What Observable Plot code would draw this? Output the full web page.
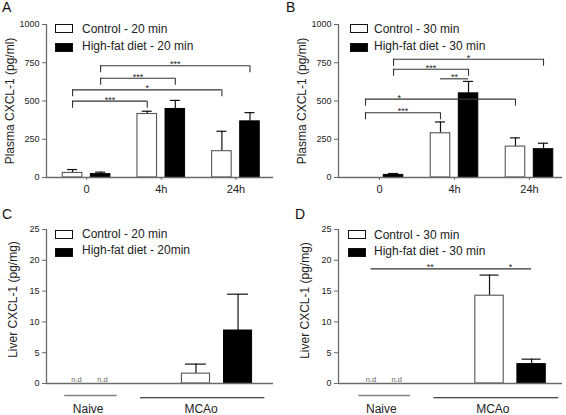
<!DOCTYPE html>
<html><head><meta charset="utf-8">
<script src="https://cdn.jsdelivr.net/npm/d3@7"></script>
<script src="https://cdn.jsdelivr.net/npm/@observablehq/plot@0.6"></script>
<style>
body{margin:0;background:#fff;font-family:"Liberation Sans",Arial,sans-serif;}
#fig{position:relative;width:566px;height:415px;overflow:hidden;background:#fff}
.panel{position:absolute;width:283px}
.panel svg{display:block}
.letter{position:absolute;top:0;font-size:14px;line-height:14px;color:#111}
.sw{position:absolute;width:16px;height:7px;border:1px solid #111}
.lt{position:absolute;font-size:12px;line-height:12px;color:#222;white-space:nowrap}
</style>
</head><body><div id="fig"></div>
<script>
// ---------------- data ----------------
const timesAB = ["0", "4h", "24h"];
const groupsCD = ["Naive", "MCAo"];
const diets = ["Control", "High-fat diet"];

const legendA = ["Control - 20 min", "High-fat diet - 20 min"];
const legendB = ["Control - 30 min", "High-fat diet - 30 min"];
const legendC = ["Control - 20 min", "High-fat diet - 20min"];
const legendD = ["Control - 30 min", "High-fat diet - 30 min"];

const yLabelAB = "Plasma CXCL-1 (pg/ml)";
const yLabelCD = "Liver CXCL-1 (pg/mg)";
const ticksPlasma = [0, 250, 500, 750, 1000];
const ticksLiver = [0, 5, 10, 15, 20, 25];

// Panel A (plasma, 20 min)
const plasmaA_control = [30, 415, 172];
const plasmaA_controlSem = [22, 18, 130];
const plasmaA_hfd = [22, 448, 367];
const plasmaA_hfdSem = [13, 56, 57];

// Panel B (plasma, 30 min)
const plasmaB_control = [0, 289, 202];
const plasmaB_controlSem = [0, 74, 57];
const plasmaB_hfd = [17, 550, 185];
const plasmaB_hfdSem = [9, 78, 39];

// Panel C (liver, 20 min) — null = not detected
const liverC_control = [null, 1.6];
const liverC_controlSem = [null, 1.55];
const liverC_hfd = [null, 8.6];
const liverC_hfdSem = [null, 5.9];

// Panel D (liver, 30 min)
const liverD_control = [null, 14.25];
const liverD_controlSem = [null, 3.35];
const liverD_hfd = [null, 3.15];
const liverD_hfdSem = [null, 0.8];

// significance annotations
const sigA_label = ["***", "*", "***", "***"];
const sigA_fromGroup = ["0", "0", "0", "0"];
const sigA_fromDiet = ["Control", "Control", "High-fat diet", "High-fat diet"];
const sigA_toGroup = ["4h", "24h", "4h", "24h"];
const sigA_toDiet = ["Control", "Control", "High-fat diet", "High-fat diet"];
const sigA_y = [499, 573, 649, 730];
const sigA_legs = [true, true, true, true];

const sigB_label = ["***", "*", "**", "***", "*"];
const sigB_fromGroup = ["0", "0", "4h", "0", "0"];
const sigB_fromDiet = ["Control", "Control", "Control", "High-fat diet", "High-fat diet"];
const sigB_toGroup = ["4h", "24h", "4h", "4h", "24h"];
const sigB_toDiet = ["Control", "Control", "High-fat diet", "High-fat diet", "High-fat diet"];
const sigB_y = [423, 512, 645, 708, 773];
const sigB_legs = [true, true, false, true, true];

const sigD_label = ["**", "*"];
const sigD_fromGroup = ["Naive", "MCAo"];
const sigD_fromDiet = ["Control", "Control"];
const sigD_toGroup = ["MCAo", "MCAo"];
const sigD_toDiet = ["Control", "High-fat diet"];
const sigD_y = [18.6, 18.6];
const sigD_legs = [false, false];

// ---------------- layout (styles / positions) ----------------
const AXIS = "#6a6a6a";
const layouts = {
  A: {left: 0, top: 0, height: 207, mL: 46, mR: 10, mT: 24, mB: 30, xDom: [-0.537, 2.503], yDom: [0, 1000],
      spread: 0.188, barHalf: 0.131, capHalf: 0.067, leg: 46, yLabDx: -36.5, yLabDy: 0,
      sw: [55, 24, 43], tx: 82, letterX: 2, sigShift: []},
  B: {left: 283, top: 0, height: 207, mL: 55, mR: 4, mT: 24, mB: 30, xDom: [-0.547, 2.44], yDom: [0, 1000],
      spread: 0.187, barHalf: 0.13, capHalf: 0.067, leg: 46, yLabDx: -36, yLabDy: 0,
      sw: [67, 24, 43], tx: 91, letterX: 3, sigShift: [0, -0.55, 0, 0, 0]},
  C: {left: 0, top: 207, height: 208, mL: 46, mR: 10, mT: 22, mB: 32, xDom: [-0.337, 1.443], yDom: [0, 25],
      spread: {Naive: 0.102, MCAo: 0.165}, barHalf: 0.11, capHalf: 0.082, leg: 0, yLabDx: -33.5, yLabDy: -7,
      sw: [55, 22.5, 40.5], tx: 82, letterX: 2, sigShift: [],
      underline: {Naive: [-0.194, 0.217], MCAo: [-0.6, 0.375]}, groupLabelShift: {Naive: -0.01, MCAo: -0.125}},
  D: {left: 283, top: 207, height: 208, mL: 55, mR: 4, mT: 22, mB: 32, xDom: [-0.358, 1.41], yDom: [0, 25],
      spread: {Naive: 0.101, MCAo: 0.166}, barHalf: 0.112, capHalf: 0.075, leg: 0, yLabDx: -33, yLabDy: -6,
      sw: [65, 23.3, 41], tx: 91, letterX: 12, sigShift: [0, 0],
      underline: {Naive: [-0.197, 0.21], MCAo: [-0.605, 0.381]}, groupLabelShift: {Naive: -0.02, MCAo: -0.14}}
};
const hasAxisMarks = typeof Plot.axisX === "function" && typeof Plot.axisY === "function";

function buildPanel(key, cfg) {
  const L = layouts[key];
  const groups = cfg.groups;
  const idx = g => groups.indexOf(g);
  const spread = g => typeof L.spread === "number" ? L.spread : L.spread[g];
  const pos = (g, d) => idx(g) + (d === diets[0] ? -1 : 1) * spread(g);

  const rows = [];
  groups.forEach((g, i) => {
    rows.push({group: g, diet: diets[0], value: cfg.control[i], sem: cfg.controlSem[i]});
    rows.push({group: g, diet: diets[1], value: cfg.hfd[i], sem: cfg.hfdSem[i]});
  });
  const shown = rows.filter(r => r.value != null && r.value > 0);
  const ctrl = shown.filter(r => r.diet === diets[0]);
  const hfd = shown.filter(r => r.diet === diets[1]);
  const errs = shown.filter(r => r.sem > 0);
  const nd = rows.filter(r => r.value == null);

  const sig = (cfg.sig ? cfg.sig.label.map((lab, i) => ({
    label: lab,
    x1: pos(cfg.sig.fromGroup[i], cfg.sig.fromDiet[i]),
    x2: pos(cfg.sig.toGroup[i], cfg.sig.toDiet[i]),
    y: cfg.sig.y[i], legs: cfg.sig.legs[i], shift: L.sigShift[i] || 0
  })) : []);
  const legEnds = sig.filter(s => s.legs).flatMap(s => [{x: s.x1, y: s.y}, {x: s.x2, y: s.y}]);

  const px = r => pos(r.group, r.diet);
  const fmt = d => String(d);
  const marks = [];
  if (hasAxisMarks) {
    marks.push(Plot.axisY({ticks: cfg.yTicks, tickFormat: fmt, tickSize: 4, tickPadding: 3, label: null, fontSize: 9, stroke: AXIS, fill: "#222"}));
    if (cfg.xTicks) marks.push(Plot.axisX({ticks: cfg.xTicks.map((_, i) => i), tickFormat: i => cfg.xTicks[i], tickSize: 3, tickPadding: 5, label: null, fontSize: 11, stroke: AXIS, fill: "#222"}));
  }
  marks.push(
    // error bars (upper only)
    Plot.ruleX(errs, {x: px, y1: "value", y2: r => r.value + r.sem, stroke: "#111", strokeWidth: 1.2}),
    Plot.ruleY(errs, {x1: r => px(r) - L.capHalf, x2: r => px(r) + L.capHalf, y: r => r.value + r.sem, stroke: "#111", strokeWidth: 1.2}),
    // bars
    Plot.rectY(ctrl, {x1: r => px(r) - L.barHalf, x2: r => px(r) + L.barHalf, y1: 0, y2: "value", fill: "white", stroke: "#555", strokeWidth: 1.1}),
    Plot.rectY(hfd, {x1: r => px(r) - L.barHalf, x2: r => px(r) + L.barHalf, y1: 0, y2: "value", fill: "black", stroke: "black", strokeWidth: 1}),
    // axis lines
    Plot.ruleY([0], {stroke: AXIS, strokeWidth: 1.3}),
    Plot.ruleX([L.xDom[0]], {y1: L.yDom[0], y2: L.yDom[1], stroke: AXIS, strokeWidth: 1.3}),
    // y-axis title
    Plot.text([cfg.yLabel], {frameAnchor: "left", textAnchor: "middle", rotate: -90, dx: L.yLabDx, dy: L.yLabDy, text: d => d, fontSize: 12, fill: "#222"}),
    // significance brackets
    Plot.ruleY(sig, {x1: "x1", x2: "x2", y: "y", stroke: "#333", strokeWidth: 1.1}),
    Plot.ruleX(legEnds, {x: "x", y1: "y", y2: d => d.y - L.leg, stroke: "#333", strokeWidth: 1.1}),
    Plot.text(sig, {x: s => (s.x1 + s.x2) / 2 + s.shift, y: "y", text: "label", lineAnchor: "bottom", dy: 1.5, fontSize: 9, fill: "#222"}),
    // not detected
    Plot.text(nd, {x: px, y: () => 0, text: () => "n.d", lineAnchor: "bottom", dy: -2, fontSize: 7.5, fill: "#666"})
  );
  if (L.underline) {
    marks.push(
      Plot.ruleY([groups[0]], {x1: g => idx(g) + L.underline[g][0], x2: g => idx(g) + L.underline[g][1], y: () => 0, dy: 12, stroke: "#808080", strokeWidth: 1.4}),
      Plot.ruleY([groups[1]], {x1: g => idx(g) + L.underline[g][0], x2: g => idx(g) + L.underline[g][1], y: () => 0, dy: 14.3, stroke: "#111", strokeWidth: 1.1}),
      Plot.text(groups, {x: g => idx(g) + L.groupLabelShift[g], y: () => 0, text: d => d, dy: 29.5, lineAnchor: "bottom", fontSize: 12, fill: "#222"})
    );
  }

  const xOpts = hasAxisMarks ? {domain: L.xDom, label: null}
    : (cfg.xTicks ? {domain: L.xDom, ticks: cfg.xTicks.map((_, i) => i), tickFormat: i => cfg.xTicks[i], tickSize: 3, tickPadding: 5, label: null}
                  : {domain: L.xDom, axis: null});
  const yOpts = hasAxisMarks ? {domain: L.yDom, label: null}
    : {domain: L.yDom, ticks: cfg.yTicks, tickFormat: fmt, tickSize: 4, tickPadding: 3, label: null};
  if (hasAxisMarks && !cfg.xTicks) xOpts.axis = null;

  const plot = Plot.plot({
    width: 283,
    height: L.height,
    marginLeft: L.mL, marginRight: L.mR, marginTop: L.mT, marginBottom: L.mB,
    style: {fontFamily: "'Liberation Sans', Arial, sans-serif", fontSize: "9px", color: "#222", background: "white", overflow: "visible"},
    x: xOpts,
    y: yOpts,
    marks
  });

  const div = document.createElement("div");
  div.className = "panel";
  div.style.left = L.left + "px";
  div.style.top = L.top + "px";
  div.style.height = L.height + "px";
  div.appendChild(plot);
  const letter = document.createElement("div");
  letter.className = "letter";
  letter.style.left = L.letterX + "px";
  letter.textContent = key;
  div.appendChild(letter);
  cfg.legend.forEach((t, i) => {
    const sw = document.createElement("div");
    sw.className = "sw";
    sw.style.left = L.sw[0] + "px";
    sw.style.top = L.sw[1 + i] + "px";
    sw.style.background = i === 0 ? "white" : "black";
    div.appendChild(sw);
    const lt = document.createElement("div");
    lt.className = "lt";
    lt.style.left = L.tx + "px";
    lt.style.top = (L.sw[1 + i] - 1.2 - (i === 1 ? 2 : 0)) + "px";
    lt.textContent = t;
    div.appendChild(lt);
  });
  document.getElementById("fig").appendChild(div);
}

buildPanel("A", {groups: timesAB, xTicks: timesAB, control: plasmaA_control, controlSem: plasmaA_controlSem, hfd: plasmaA_hfd, hfdSem: plasmaA_hfdSem,
  yTicks: ticksPlasma, yLabel: yLabelAB, legend: legendA,
  sig: {label: sigA_label, fromGroup: sigA_fromGroup, fromDiet: sigA_fromDiet, toGroup: sigA_toGroup, toDiet: sigA_toDiet, y: sigA_y, legs: sigA_legs}});
buildPanel("B", {groups: timesAB, xTicks: timesAB, control: plasmaB_control, controlSem: plasmaB_controlSem, hfd: plasmaB_hfd, hfdSem: plasmaB_hfdSem,
  yTicks: ticksPlasma, yLabel: yLabelAB, legend: legendB,
  sig: {label: sigB_label, fromGroup: sigB_fromGroup, fromDiet: sigB_fromDiet, toGroup: sigB_toGroup, toDiet: sigB_toDiet, y: sigB_y, legs: sigB_legs}});
buildPanel("C", {groups: groupsCD, control: liverC_control, controlSem: liverC_controlSem, hfd: liverC_hfd, hfdSem: liverC_hfdSem,
  yTicks: ticksLiver, yLabel: yLabelCD, legend: legendC});
buildPanel("D", {groups: groupsCD, control: liverD_control, controlSem: liverD_controlSem, hfd: liverD_hfd, hfdSem: liverD_hfdSem,
  yTicks: ticksLiver, yLabel: yLabelCD, legend: legendD,
  sig: {label: sigD_label, fromGroup: sigD_fromGroup, fromDiet: sigD_fromDiet, toGroup: sigD_toGroup, toDiet: sigD_toDiet, y: sigD_y, legs: sigD_legs}});
</script>
</body></html>
